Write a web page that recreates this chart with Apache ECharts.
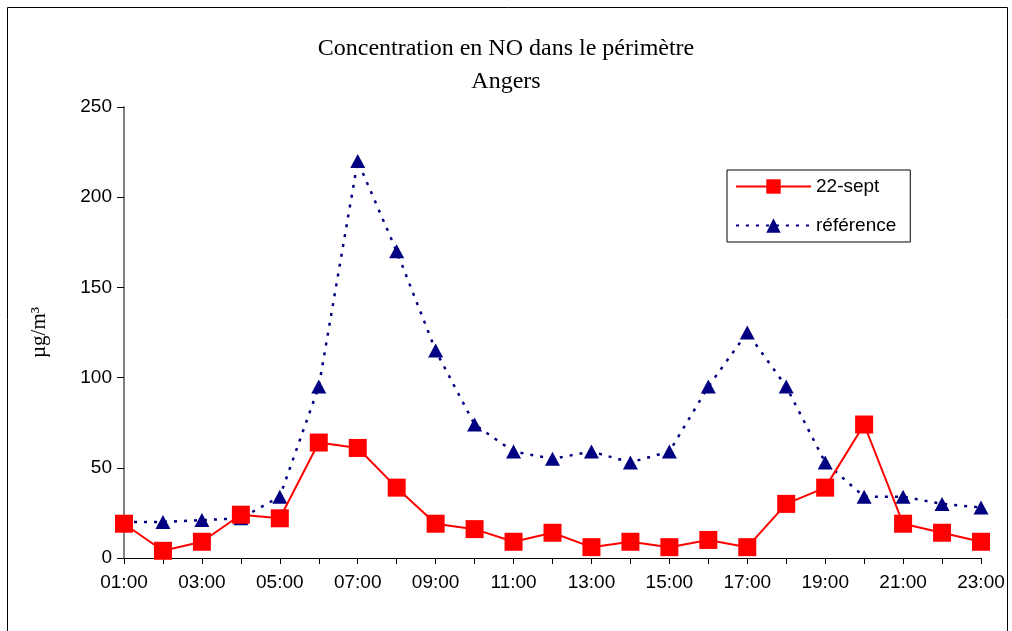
<!DOCTYPE html>
<html><head><meta charset="utf-8">
<script src="https://cdn.jsdelivr.net/npm/echarts@6/dist/echarts.min.js"></script>
<style>html,body{margin:0;padding:0;background:#fff}#c{width:1012px;height:631px}</style>
</head><body><div id="c"></div>
<script>
const hours = ['01:00','02:00','03:00','04:00','05:00','06:00','07:00','08:00','09:00','10:00','11:00','12:00','13:00','14:00','15:00','16:00','17:00','18:00','19:00','20:00','21:00','22:00','23:00'];
const sept22 = [19,4,9,24,22,64,61,39,19,16,9,14,6,9,6,10,6,30,39,74,19,14,9];
const reference = [20,20,21,22,34,95,220,170,115,74,59,55,59,53,59,95,125,95,53,34,34,30,28];
const yTicks = {min:0, max:250, interval:50};

const chart = echarts.init(document.getElementById('c'), null, {renderer:'canvas'});
chart.setOption({
  animation:false,
  backgroundColor:'#fff',
  title:{
    text:'Concentration en NO dans le périmètre\nAngers',
    left:'center', top:27,
    textStyle:{fontFamily:'Liberation Serif', fontWeight:'normal', fontSize:24, color:'#000', lineHeight:33}
  },
  graphic:[{type:'rect', shape:{x:7.5,y:7.5,width:1000,height:640}, style:{fill:null, stroke:'#000', lineWidth:1}, silent:true}],
  legend:{
    orient:'vertical', left:727, top:170,
    borderColor:'#000', borderWidth:1, padding:[7,14,7,8],
    itemWidth:75, itemHeight:18, itemGap:20,
    textStyle:{fontFamily:'Liberation Sans', fontSize:19, color:'#000'},
    data:['22-sept','référence']
  },
  grid:{left:124, right:31, top:107, bottom:73},
  xAxis:{
    type:'category', data:hours, boundaryGap:false,
    axisLine:{lineStyle:{color:'#000', width:1}},
    axisTick:{show:true, interval:0, length:6, lineStyle:{color:'#000'}},
    axisLabel:{interval:1, margin:15, fontFamily:'Liberation Sans', fontSize:19, color:'#000'}
  },
  yAxis:{
    type:'value', min:yTicks.min, max:yTicks.max, interval:yTicks.interval,
    name:'µg/m³', nameLocation:'middle', nameGap:74, nameRotate:90,
    nameTextStyle:{fontFamily:'Liberation Serif', fontSize:21, color:'#000'},
    splitLine:{show:false},
    axisLine:{show:true, lineStyle:{color:'#808080', width:2}},
    axisTick:{show:true, length:7, lineStyle:{color:'#000'}},
    axisLabel:{margin:12, fontFamily:'Liberation Sans', fontSize:19, color:'#000'}
  },
  series:[
    {name:'22-sept', type:'line', data:sept22, symbol:'rect', symbolSize:18, z:3,
     lineStyle:{color:'#ff0000', width:2}, itemStyle:{color:'#ff0000'}},
    {name:'référence', type:'line', data:reference, symbol:'triangle', symbolSize:[15,14], z:2,
     lineStyle:{color:'#000080', width:2.5, type:[3,7]}, itemStyle:{color:'#000080'}}
  ]
});
</script></body></html>
